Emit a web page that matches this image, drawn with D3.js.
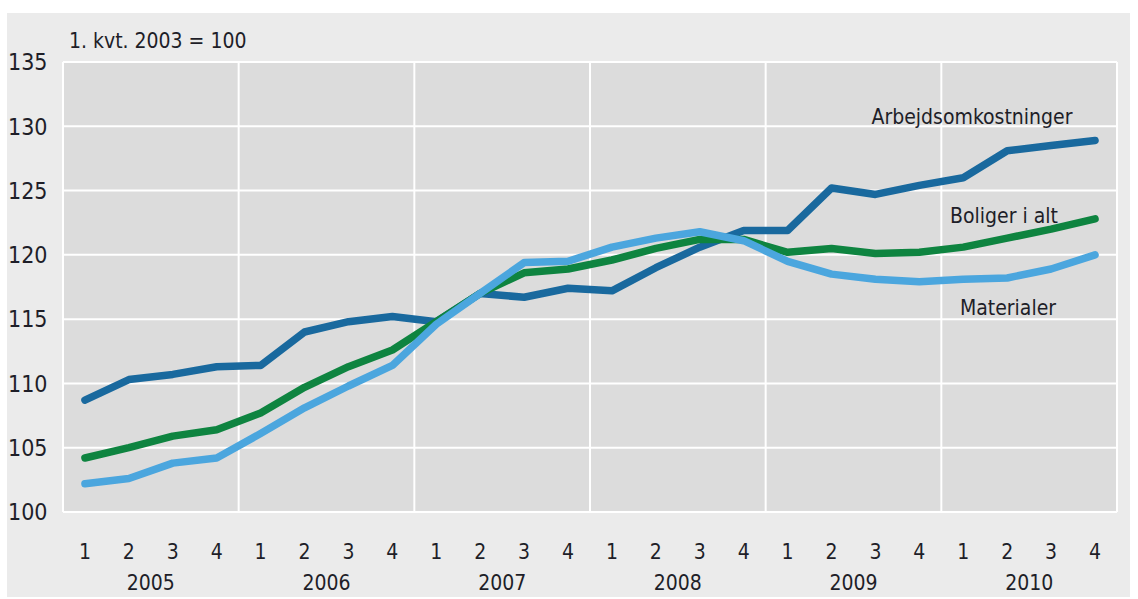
<!DOCTYPE html>
<html>
<head>
<meta charset="utf-8">
<script src="https://cdn.jsdelivr.net/npm/d3@7"></script>
<style>
  html, body { margin: 0; padding: 0; background: #fff; }
  svg text { font-family: "Liberation Sans Narrow", "DejaVu Sans Condensed", "Roboto Condensed", "Liberation Sans", sans-serif; fill: #1e1e28; }
</style>
</head>
<body>
<div id="chart"></div>
<script>
const years    = ["2005", "2006", "2007", "2008", "2009", "2010"];
const quarters = ["1", "2", "3", "4"];
const yTicks   = [100, 105, 110, 115, 120, 125, 130, 135];

// indeks, 1. kvt. 2003 = 100
const arbejdsomkostninger = [108.7, 110.3, 110.7, 111.3, 111.4, 114.0, 114.8, 115.2,
                             114.8, 117.0, 116.7, 117.4, 117.2, 119.0, 120.6, 121.9,
                             121.9, 125.2, 124.7, 125.4, 126.0, 128.1, 128.5, 128.9];
const boligerIAlt         = [104.2, 105.0, 105.9, 106.4, 107.7, 109.7, 111.3, 112.6,
                             114.8, 117.0, 118.6, 118.9, 119.6, 120.5, 121.2, 121.2,
                             120.2, 120.5, 120.1, 120.2, 120.6, 121.3, 122.0, 122.8];
const materialer          = [102.2, 102.6, 103.8, 104.2, 106.1, 108.1, 109.8, 111.4,
                             114.6, 117.0, 119.4, 119.5, 120.6, 121.3, 121.8, 121.1,
                             119.5, 118.5, 118.1, 117.9, 118.1, 118.2, 118.9, 120.0];

const periods = years.flatMap(y => quarters.map(q => `${y}-${q}`));

const series = [
  { name: "Arbejdsomkostninger", values: arbejdsomkostninger, color: "#19699e", lx: 972, ly: 117 },
  { name: "Boliger i alt",       values: boligerIAlt,         color: "#0e8440", lx: 1004, ly: 216 },
  { name: "Materialer",          values: materialer,          color: "#4ba6de", lx: 1008, ly: 308 }
];

const width  = 1138;
const height = 599;
const margin = { top: 62, right: 21, bottom: 87, left: 63 };

const svg = d3.select("#chart").append("svg")
  .attr("width", width).attr("height", height)
  .attr("viewBox", [0, 0, width, height]);

// outer panel
svg.append("rect")
  .attr("x", 7).attr("y", 13)
  .attr("width", 1123).attr("height", 584)
  .attr("fill", "#ebebeb");

const x = d3.scaleBand()
  .domain(periods)
  .range([margin.left, width - margin.right]);

const y = d3.scaleLinear()
  .domain([100, 135])
  .range([height - margin.bottom, margin.top]);

// plot area
svg.append("rect")
  .attr("x", margin.left).attr("y", margin.top)
  .attr("width", width - margin.left - margin.right)
  .attr("height", height - margin.top - margin.bottom)
  .attr("fill", "#dcdcdc");

// horizontal grid
svg.append("g")
  .selectAll("line")
  .data(yTicks)
  .join("line")
    .attr("x1", margin.left).attr("x2", width - margin.right)
    .attr("y1", d => y(d)).attr("y2", d => y(d))
    .attr("stroke", "#fff").attr("stroke-width", 2);

// vertical grid at year boundaries (incl. edges)
const yearEdges = years.map(yr => x(`${yr}-1`)).concat([width - margin.right]);
svg.append("g")
  .selectAll("line")
  .data(yearEdges)
  .join("line")
    .attr("x1", d => d).attr("x2", d => d)
    .attr("y1", margin.top).attr("y2", height - margin.bottom)
    .attr("stroke", "#fff").attr("stroke-width", 2);

// y-axis labels
svg.append("g")
  .attr("transform", `translate(8,0)`)
  .call(d3.axisLeft(y).tickValues(yTicks).tickSize(0).tickPadding(0))
  .call(g => g.select(".domain").remove())
  .call(g => g.selectAll("text")
    .attr("text-anchor", "start")
    .attr("font-size", 23)
    .attr("dy", "0.34em"));

// quarter labels
svg.append("g")
  .attr("transform", `translate(0,${height - margin.bottom})`)
  .call(d3.axisBottom(x).tickSize(0).tickPadding(0).tickFormat(d => d.split("-")[1]))
  .call(g => g.select(".domain").remove())
  .call(g => g.selectAll("text")
    .attr("font-size", 21)
    .attr("y", 47)
    .attr("dy", 0));

// year labels
svg.append("g")
  .selectAll("text")
  .data(years)
  .join("text")
    .attr("x", yr => (x(`${yr}-1`) + x(`${yr}-4`) + x.bandwidth()) / 2)
    .attr("y", 590)
    .attr("text-anchor", "middle")
    .attr("font-size", 21)
    .text(yr => yr);

// unit note
svg.append("text")
  .attr("x", 69).attr("y", 48)
  .attr("font-size", 21)
  .text("1. kvt. 2003 = 100");

// lines
const line = d3.line()
  .x((d, i) => x(periods[i]) + x.bandwidth() / 2)
  .y(d => y(d));

svg.append("g")
  .selectAll("path")
  .data(series)
  .join("path")
    .attr("d", s => line(s.values))
    .attr("fill", "none")
    .attr("stroke", s => s.color)
    .attr("stroke-width", 7.5)
    .attr("stroke-linejoin", "round")
    .attr("stroke-linecap", "round");

// series labels
svg.append("g")
  .selectAll("text")
  .data(series)
  .join("text")
    .attr("x", s => s.lx).attr("y", s => s.ly)
    .attr("dy", "0.34em")
    .attr("text-anchor", "middle")
    .attr("font-size", 21)
    .text(s => s.name);
</script>
</body>
</html>
